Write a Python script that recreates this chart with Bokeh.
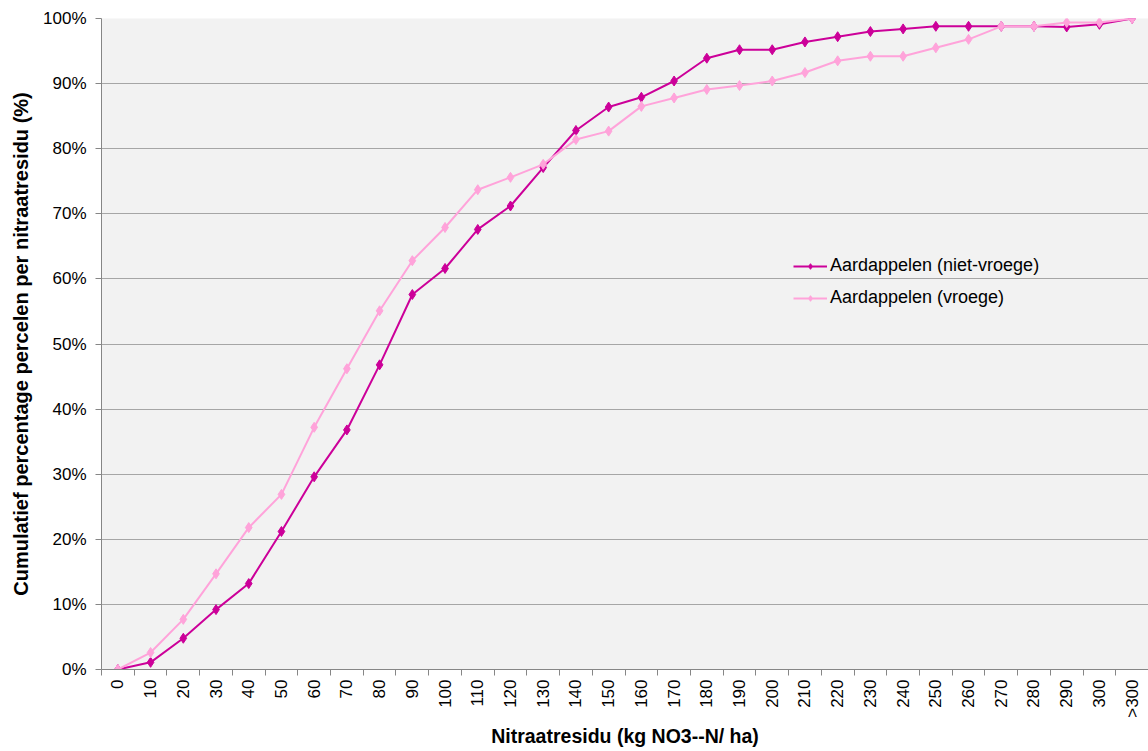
from bokeh.plotting import figure
from bokeh.models import FixedTicker, PrintfTickFormatter, Legend, LegendItem, Range1d
from bokeh.embed import file_html
from bokeh.resources import INLINE

# ---- data ----
tick_labels = ["0", "10", "20", "30", "40", "50", "60", "70", "80", "90", "100",
               "110", "120", "130", "140", "150", "160", "170", "180", "190", "200",
               "210", "220", "230", "240", "250", "260", "270", "280", "290", "300", ">300"]
niet_vroege = [0, 1.1, 4.8, 9.2, 13.2, 21.2, 29.6, 36.8, 46.8, 57.6, 61.6,
               67.6, 71.2, 77.1, 82.8, 86.4, 87.9, 90.4, 93.9, 95.2, 95.2,
               96.4, 97.2, 98.0, 98.4, 98.8, 98.8, 98.8, 98.8, 98.7, 99.1, 100]
vroege = [0, 2.6, 7.7, 14.7, 21.8, 26.9, 37.2, 46.2, 55.1, 62.8, 67.9,
          73.7, 75.6, 77.6, 81.4, 82.7, 86.5, 87.8, 89.1, 89.7, 90.4,
          91.7, 93.5, 94.2, 94.2, 95.5, 96.8, 98.8, 98.8, 99.4, 99.4, 100]
series_names = ["Aardappelen (niet-vroege)", "Aardappelen (vroege)"]
series_colors = ["#CC0099", "#FFA3DA"]

x = list(range(len(tick_labels)))
FONT = "Liberation Sans"

p = figure(width=1148, height=751, output_backend="svg", toolbar_location=None,
           x_range=Range1d(-0.5, len(tick_labels) - 0.5), y_range=Range1d(0, 100),
           min_border_left=101, min_border_right=0, min_border_top=18, min_border_bottom=82)
p.background_fill_color = "#F2F2F2"
p.border_fill_color = "white"
p.outline_line_color = None

# axes
p.xaxis.ticker = FixedTicker(ticks=x, minor_ticks=[i - 0.5 for i in range(len(tick_labels) + 1)])
p.xaxis.major_label_overrides = {i: t for i, t in enumerate(tick_labels)}
p.xaxis.major_label_orientation = 1.5708
p.xaxis.major_tick_out = 0
p.xaxis.major_tick_in = 0
p.xaxis.minor_tick_out = 6
p.xaxis.minor_tick_in = 0
p.xaxis.minor_tick_line_color = "#868686"
p.xaxis.axis_line_color = "#868686"
p.xaxis.major_label_text_font = FONT
p.xaxis.major_label_text_font_size = "17px"
p.xaxis.major_label_text_color = "black"
p.xaxis.major_label_standoff = 4
p.xaxis.axis_label = "Nitraatresidu (kg NO3--N/ ha)"
p.xaxis.axis_label_text_font = FONT
p.xaxis.axis_label_text_font_style = "bold"
p.xaxis.axis_label_text_font_size = "19.5px"
p.xaxis.axis_label_text_color = "black"
p.xaxis.axis_label_standoff = 4

p.yaxis.ticker = FixedTicker(ticks=list(range(0, 101, 10)))
p.yaxis.formatter = PrintfTickFormatter(format="%d%%")
p.yaxis.major_tick_out = 6
p.yaxis.major_tick_in = 0
p.yaxis.minor_tick_out = 0
p.yaxis.minor_tick_in = 0
p.yaxis.major_tick_line_color = "#868686"
p.yaxis.axis_line_color = "#868686"
p.yaxis.major_label_text_font = FONT
p.yaxis.major_label_text_font_size = "17px"
p.yaxis.major_label_text_color = "black"
p.yaxis.major_label_standoff = 9
p.yaxis.axis_label = "Cumulatief percentage percelen per nitraatresidu (%)"
p.yaxis.axis_label_text_font = FONT
p.yaxis.axis_label_text_font_style = "bold"
p.yaxis.axis_label_text_font_size = "20px"
p.yaxis.axis_label_text_color = "black"
p.yaxis.axis_label_standoff = 8

p.xgrid.grid_line_color = None
p.ygrid.grid_line_color = "#A6A6A6"
p.ygrid.grid_line_width = 1

items = []
for vals, name, col in [(niet_vroege, series_names[0], series_colors[0]),
                        (vroege, series_names[1], series_colors[1])]:
    r1 = p.line(x, vals, line_color=col, line_width=2)
    r2 = p.scatter(x, vals, marker="diamond", size=10, fill_color=col, line_color=col)
    items.append(LegendItem(label=name, renderers=[r1, r2]))

legend = Legend(items=items, location=(692, 361), background_fill_alpha=0,
                border_line_color=None, label_text_font=FONT, label_text_font_size="18px",
                label_text_color="black",
                glyph_width=34, glyph_height=14, spacing=11, padding=4, margin=0,
                label_standoff=3)
p.add_layout(legend, "center")

open("out.html", "w").write(file_html(p, INLINE))
